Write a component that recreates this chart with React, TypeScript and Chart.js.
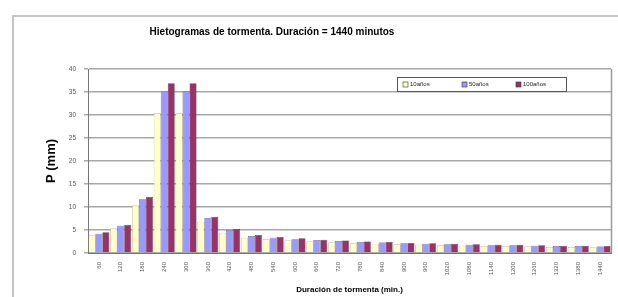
import React, { useEffect, useRef } from "react";
import { Chart, registerables } from "chart.js";

Chart.register(...registerables);

const categories = ["60","120","180","240","300","360","420","480","540","600","660","720","780","840","900","960","1020","1080","1140","1200","1260","1320","1380","1440"];
const seriesNames = ["10años", "50años", "100años"];
const p10 = [3.8,5.3,10.3,30.4,30.4,6.8,4.4,3.3,3.0,2.7,2.5,2.3,2.1,2.0,1.9,1.8,1.7,1.6,1.5,1.5,1.4,1.3,1.3,1.2];
const p50 = [4.2,5.9,11.7,35.1,35.1,7.6,5.0,3.7,3.3,3.0,2.8,2.6,2.4,2.3,2.1,2.0,1.9,1.8,1.7,1.7,1.6,1.5,1.5,1.4];
const p100 = [4.5,6.1,12.2,36.9,36.9,7.9,5.2,3.9,3.5,3.2,2.9,2.7,2.5,2.4,2.2,2.1,2.0,1.9,1.8,1.8,1.7,1.6,1.6,1.5];
const colors = ["#FFFFCC", "#9999FF", "#993366"];
const title = "Hietogramas de tormenta. Duración = 1440 minutos";

const extras = {
  id: "extras",
  afterDraw(chart: any) {
    const { ctx, chartArea } = chart;
    ctx.save();
    // plot area right border
    ctx.strokeStyle = "#9a9a9a";
    ctx.lineWidth = 1.5;
    ctx.beginPath();
    ctx.moveTo(chartArea.right + 0.5, chartArea.top);
    ctx.lineTo(chartArea.right + 0.5, chartArea.bottom);
    ctx.stroke();
    // title
    ctx.fillStyle = "#000";
    ctx.font = "bold 10px 'Liberation Sans', Arial, sans-serif";
    ctx.textAlign = "center";
    ctx.textBaseline = "middle";
    ctx.fillText(title, 272, 32);
    // legend box
    const bx = 397, by = 77, bw = 169, bh = 14;
    ctx.fillStyle = "#fff";
    ctx.fillRect(bx, by, bw, bh);
    ctx.strokeStyle = "#555";
    ctx.lineWidth = 1;
    ctx.strokeRect(bx + 0.5, by + 0.5, bw, bh);
    ctx.font = "6px 'Liberation Sans', Arial, sans-serif";
    ctx.textAlign = "left";
    const xs = [403, 462, 516];
    seriesNames.forEach((n, i) => {
      ctx.fillStyle = colors[i];
      ctx.fillRect(xs[i], by + 5, 5, 5);
      ctx.strokeStyle = "#333";
      ctx.lineWidth = 0.6;
      ctx.strokeRect(xs[i], by + 5, 5, 5);
      ctx.fillStyle = "#222";
      ctx.fillText(n, xs[i] + 7, by + 7.5);
    });
    ctx.restore();
  },
};

export default function App() {
  const ref = useRef<HTMLCanvasElement>(null);
  useEffect(() => {
    const chart = new Chart(ref.current!, {
      type: "bar",
      data: {
        labels: categories,
        datasets: [p10, p50, p100].map((d, i) => ({
          label: seriesNames[i],
          data: d,
          backgroundColor: colors[i],
          borderColor: i === 0 ? "#8a7a50" : "#3a2a3a",
          borderWidth: 0.5,
          categoryPercentage: 0.96,
          barPercentage: 1,
        })),
      },
      options: {
        animation: false,
        responsive: false,
        maintainAspectRatio: false,
        layout: { padding: { top: 69, right: 7, left: 0, bottom: 0 } },
        plugins: { legend: { display: false }, title: { display: false }, tooltip: { enabled: false } },
        scales: {
          x: {
            grid: { display: false, drawTicks: true, tickLength: 3 },
            border: { color: "#777", width: 1 },
            ticks: {
              color: "#555",
              font: { size: 6, family: "'Liberation Sans', Arial, sans-serif" },
              minRotation: 90,
              maxRotation: 90,
              autoSkip: false,
              padding: 6,
            },
            title: {
              display: true,
              text: "Duración de tormenta (min.)",
              color: "#000",
              font: { size: 8, weight: "bold", family: "'Liberation Sans', Arial, sans-serif" },
              padding: { top: 0, bottom: 2 },
            },
            afterFit: (s: any) => { s.height = 44; },
          },
          y: {
            min: 0,
            max: 40,
            grid: { color: "#a8a8a8", lineWidth: 1.5, drawTicks: true, tickLength: 4 },
            border: { color: "#777", width: 1 },
            ticks: {
              stepSize: 5,
              color: "#555",
              font: { size: 6.5, family: "'Liberation Sans', Arial, sans-serif" },
              padding: 8,
            },
            title: {
              display: true,
              text: "P (mm)",
              color: "#000",
              font: { size: 13, weight: "bold", family: "'Liberation Sans', Arial, sans-serif" },
              padding: { top: 44, bottom: 0 },
            },
            afterFit: (s: any) => { s.width = 88; },
          },
        },
      },
      plugins: [extras],
    });
    return () => chart.destroy();
  }, []);
  return (
    <div style={{ position: "absolute", left: 0, top: 0, width: 618, height: 297, overflow: "hidden", background: "#fff" }}>
      <div style={{ position: "absolute", left: 12, top: 15, width: 620, height: 300, border: "2px solid #c4c4c4", boxSizing: "border-box" }} />
      <canvas ref={ref} width={618} height={297} style={{ position: "absolute", left: 0, top: 0 }} />
    </div>
  );
}
